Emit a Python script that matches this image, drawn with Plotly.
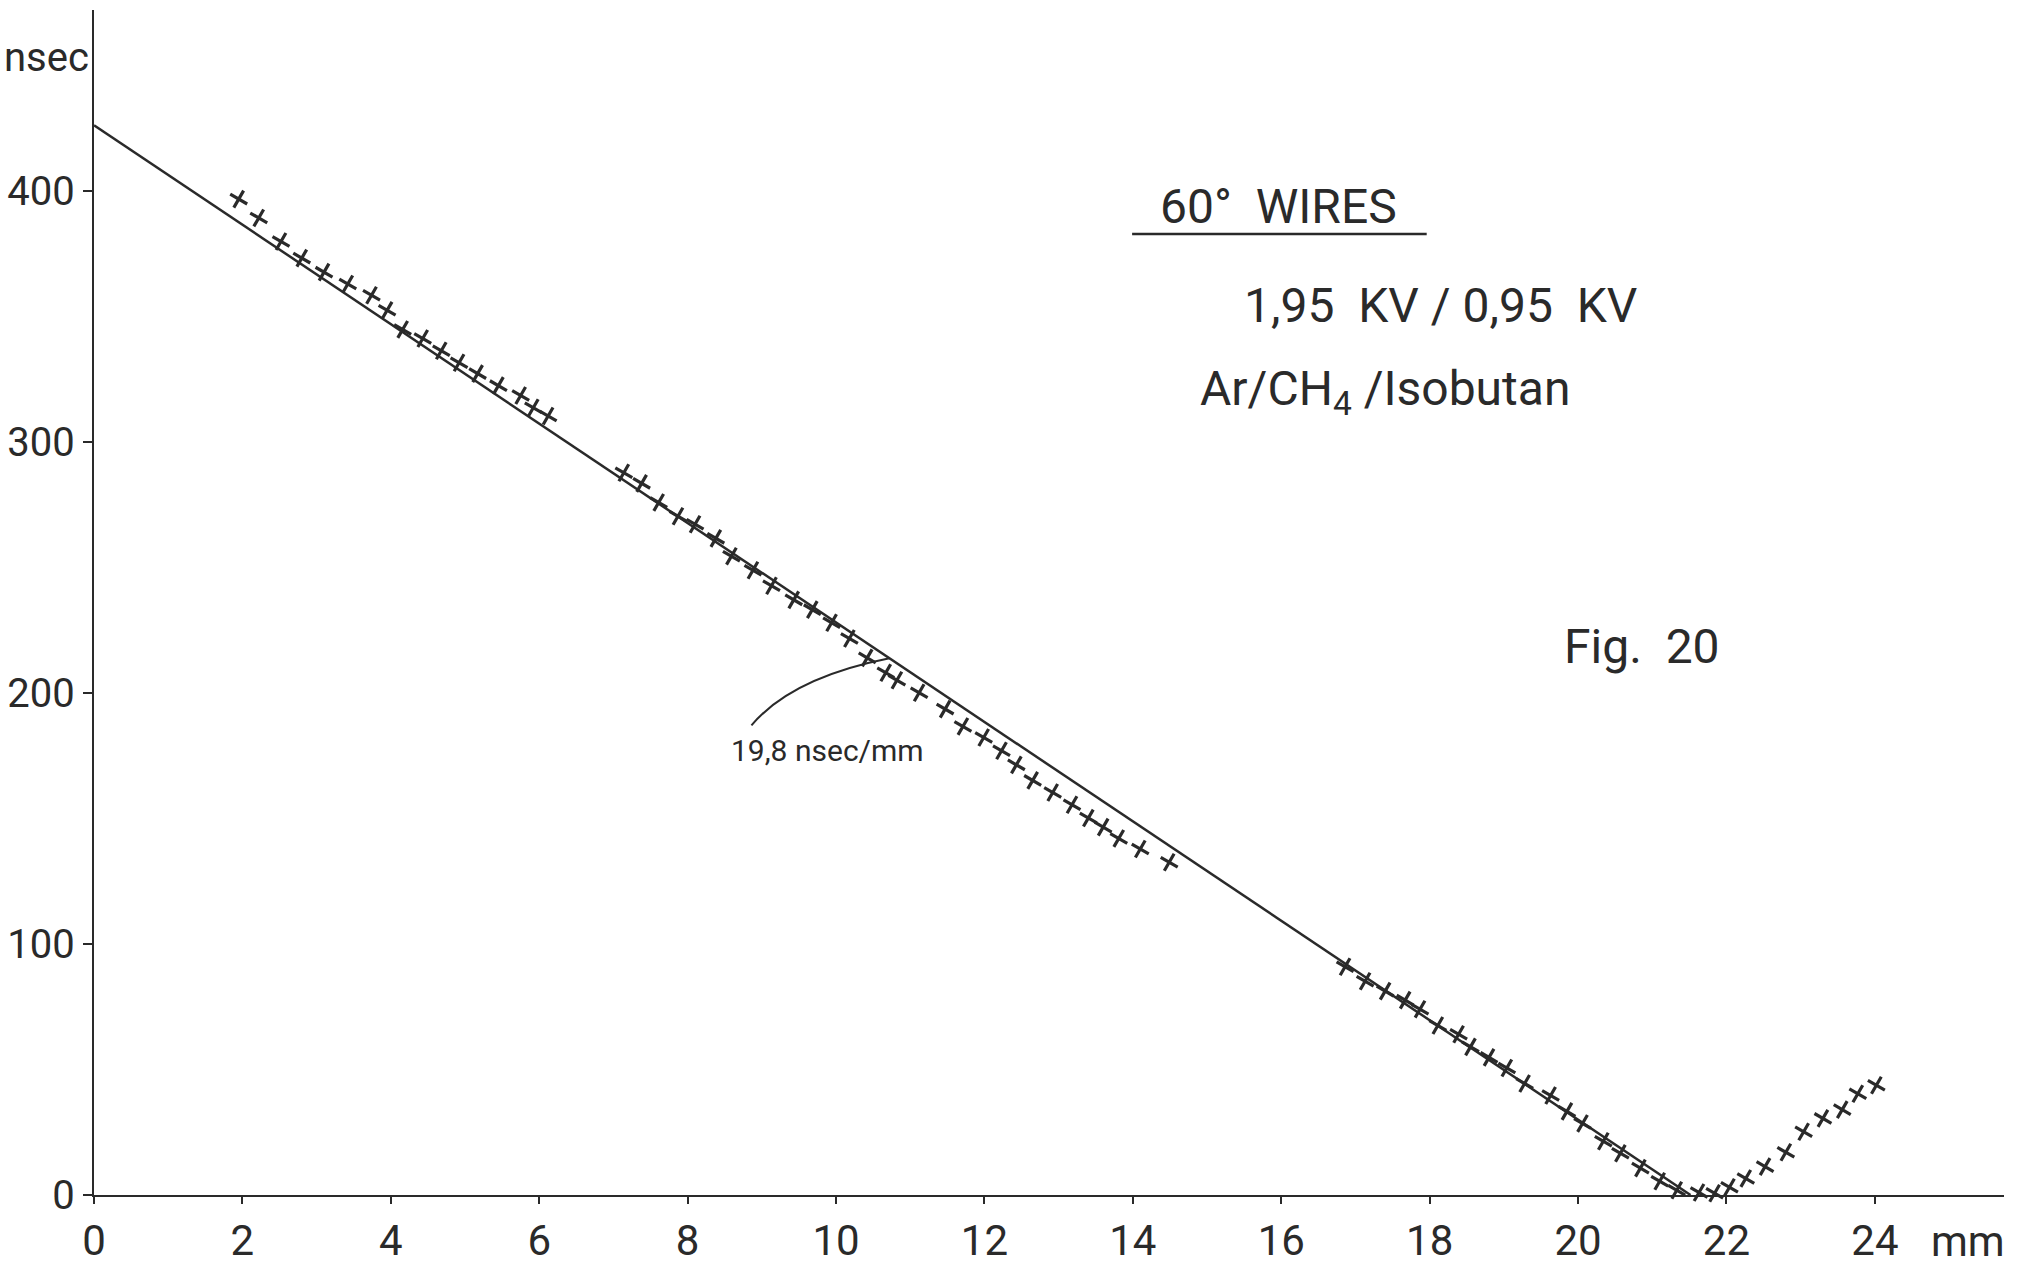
import numpy as np
import plotly.graph_objects as go

# Drift time vs. distance from the wire, 60° wires, Ar/CH4/Isobutan
distance_mm = [
    1.95, 2.22, 2.52, 2.80, 3.10, 3.42, 3.74, 3.95, 4.16, 4.43, 4.68, 4.92,
    5.17, 5.45, 5.75, 5.92, 6.12,
    7.14, 7.38, 7.61, 7.87, 8.10, 8.38, 8.59, 8.88, 9.13, 9.43, 9.68, 9.94,
    10.18, 10.42, 10.67, 10.82, 11.12, 11.47, 11.71, 11.99,
    12.23, 12.43, 12.65, 12.92, 13.18, 13.40, 13.60, 13.81, 14.10, 14.49,
    16.86, 17.13, 17.40, 17.67, 17.87, 18.11, 18.39, 18.55, 18.80, 19.04,
    19.28, 19.63, 19.85, 20.06,
    20.34, 20.57, 20.84, 21.10, 21.33, 21.63, 21.84, 22.04, 22.26, 22.52,
    22.80, 23.04, 23.30, 23.56, 23.77, 24.02,
]
drift_ns = [
    396.6, 389.1, 379.7, 373.1, 367.5, 362.8, 358.3, 352.3, 344.7, 341.1, 336.2, 331.4,
    327.1, 322.3, 318.4, 313.5, 310.2,
    287.6, 283.4, 275.8, 270.3, 267.1, 261.5, 254.4, 248.8, 242.6, 237.0, 233.1, 227.9,
    221.6, 213.9, 208.0, 205.0, 200.0, 193.5, 186.6, 182.2,
    176.9, 171.3, 165.1, 160.3, 155.4, 150.1, 146.5, 142.0, 137.8, 132.5,
    90.9, 85.1, 81.2, 77.6, 74.0, 67.5, 64.0, 59.0, 54.8, 50.6,
    44.4, 39.6, 33.3, 28.5,
    21.4, 16.6, 10.7, 5.5, 1.9, 1.0, 0.7, 3.1, 6.6, 11.3,
    17.0, 25.2, 30.5, 34.0, 40.3, 43.7,
]

# Straight-line fit: 19,8 nsec/mm
FIT_SLOPE = 19.8
FIT_INTERCEPT = 426.0

x_ticks = [0, 2, 4, 6, 8, 10, 12, 14, 16, 18, 20, 22, 24]
y_ticks = [0, 100, 200, 300, 400]

INK = "#2a2a2a"
FONT = "Roboto, DejaVu Sans, sans-serif"

fit_x = np.array([0.0, FIT_INTERCEPT / FIT_SLOPE])
fit_y = FIT_INTERCEPT - FIT_SLOPE * fit_x

fig = go.Figure()

fig.add_trace(go.Scatter(
    x=fit_x, y=fit_y, mode="lines",
    line=dict(color=INK, width=2.5),
    hoverinfo="skip", showlegend=False, cliponaxis=False,
))

fig.add_trace(go.Scatter(
    x=distance_mm, y=drift_ns, mode="markers",
    marker=dict(symbol="cross-thin", size=14, angle=30,
                line=dict(color=INK, width=3.2)),
    showlegend=False, cliponaxis=False,
))

# leader from the slope label to the fitted line
lead_start = (8.86, 187.0)
lead_ctrl = (9.40, 206.0)
lead_end_x = 10.72
lead_end_y = FIT_INTERCEPT - FIT_SLOPE * lead_end_x
fig.add_shape(
    type="path", xref="x", yref="y",
    path=(f"M {lead_start[0]},{lead_start[1]} "
          f"Q {lead_ctrl[0]},{lead_ctrl[1]} {lead_end_x},{lead_end_y}"),
    line=dict(color=INK, width=2),
)

fig.add_annotation(x=9.89, y=177.0, xref="x", yref="y",
                   text="19,8 nsec/mm", showarrow=False,
                   font=dict(family=FONT, size=30, color=INK))

# Title block
fig.add_annotation(x=15.96, y=393.5, xref="x", yref="y",
                   text="60°  WIRES", showarrow=False,
                   font=dict(family=FONT, size=48, color=INK))
fig.add_shape(type="line", xref="x", yref="y",
              x0=13.99, x1=17.96, y0=382.7, y1=382.7,
              line=dict(color=INK, width=2.4))
fig.add_annotation(x=18.14, y=354.4, xref="x", yref="y",
                   text="1,95  KV / 0,95  KV", showarrow=False,
                   font=dict(family=FONT, size=48, color=INK))
fig.add_annotation(x=17.40, y=319.8, xref="x", yref="y",
                   text="Ar/CH<sub>4</sub> /Isobutan", showarrow=False,
                   font=dict(family=FONT, size=48, color=INK))
fig.add_annotation(x=20.86, y=218.6, xref="x", yref="y",
                   text="Fig.  20", showarrow=False,
                   font=dict(family=FONT, size=48, color=INK))

# axis unit labels
fig.add_annotation(x=0, y=453, xref="paper", yref="y",
                   xanchor="right", xshift=-3,
                   text="nsec", showarrow=False,
                   font=dict(family=FONT, size=40, color=INK))
fig.add_annotation(x=25.26, y=0, xref="x", yref="paper",
                   yanchor="top", yshift=-20,
                   text="mm", showarrow=False,
                   font=dict(family=FONT, size=42, color=INK))

fig.update_xaxes(
    range=[0, 25.74], tickvals=x_ticks, ticktext=[str(v) for v in x_ticks],
    showline=True, linecolor=INK, linewidth=2.4,
    ticks="outside", ticklen=7, tickwidth=2, tickcolor=INK,
    showgrid=False, zeroline=False,
    tickfont=dict(family=FONT, size=42, color=INK),
)
fig.update_yaxes(
    range=[0, 471.9], tickvals=y_ticks, ticktext=[str(v) for v in y_ticks],
    showline=True, linecolor=INK, linewidth=2.4,
    ticks="outside", ticklen=9, tickwidth=2, tickcolor=INK,
    showgrid=False, zeroline=False,
    tickfont=dict(family=FONT, size=40, color=INK),
)

fig.update_layout(
    width=2027, height=1281, autosize=False,
    margin=dict(l=94, r=23, t=10, b=86, autoexpand=False),
    paper_bgcolor="white", plot_bgcolor="white",
    hovermode=False,
)

fig.write_html("out.html", config={"displayModeBar": False})
